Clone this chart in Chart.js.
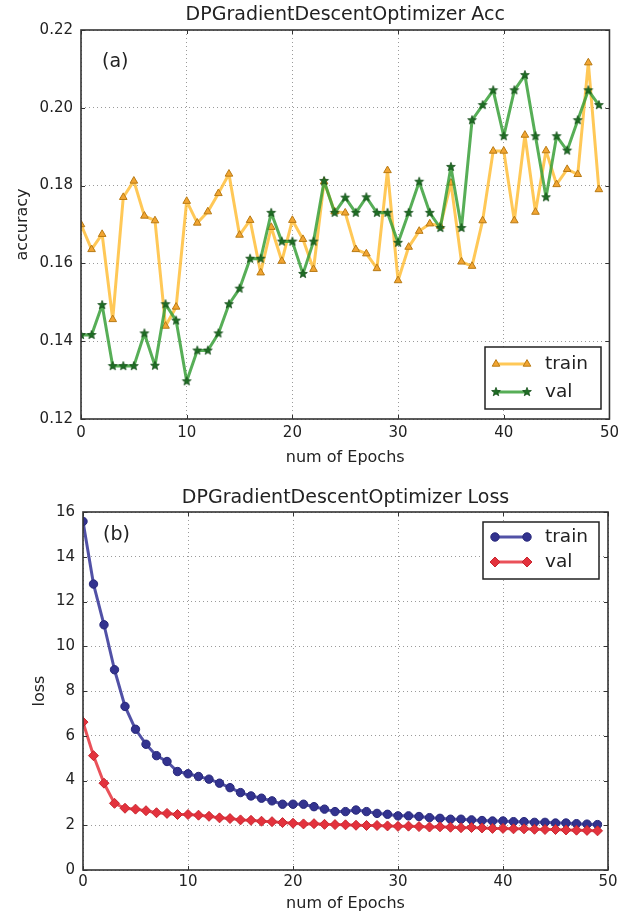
<!DOCTYPE html>
<html>
<head>
<meta charset="utf-8">
<script src="https://cdn.jsdelivr.net/npm/chart.js@4.4.1/dist/chart.umd.min.js"></script>
<style>
  html,body{margin:0;padding:0;background:#fff;}
  #wrap{position:relative;width:624px;height:913px;background:#fff;}
  canvas{position:absolute;left:0;}
</style>
</head>
<body>
<div id="wrap">
  <canvas id="acc" width="624" height="470" style="top:0"></canvas>
  <canvas id="loss" width="624" height="443" style="top:470px"></canvas>
</div>
<script>
// ---------- data ----------
const epochs = [0,1,2,3,4,5,6,7,8,9,10,11,12,13,14,15,16,17,18,19,20,21,22,23,24,
                25,26,27,28,29,30,31,32,33,34,35,36,37,38,39,40,41,42,43,44,45,46,47,48,49];
const accTrain = [0.170,0.1636,0.1675,0.1456,0.1770,0.1812,0.1722,0.1710,0.1439,0.1488,
                  0.1760,0.1704,0.1733,0.1780,0.1830,0.1673,0.1711,0.1576,0.1693,0.1606,
                  0.1711,0.1662,0.1585,0.1810,0.1733,0.1730,0.1636,0.1625,0.1587,0.1839,
                  0.1556,0.1642,0.1683,0.1702,0.1696,0.1807,0.1604,0.1593,0.1710,0.1889,
                  0.1889,0.1710,0.1930,0.1732,0.1890,0.1803,0.1842,0.1829,0.2116,0.1790];
const accVal   = [0.1416,0.1416,0.1493,0.1336,0.1336,0.1336,0.1420,0.1337,0.1495,0.1453,
                  0.1297,0.1376,0.1376,0.1420,0.1495,0.1535,0.1612,0.1612,0.1730,0.1656,
                  0.1656,0.1573,0.1656,0.1812,0.1730,0.1769,0.1730,0.1770,0.1730,0.1730,
                  0.1653,0.1730,0.1810,0.1730,0.1691,0.1848,0.1691,0.1968,0.2007,0.2045,
                  0.1927,0.2045,0.2084,0.1927,0.1770,0.1927,0.1890,0.1968,0.2045,0.2007];
const lossTrain = [15.58,12.78,10.96,8.95,7.31,6.29,5.62,5.11,4.85,4.40,
                   4.30,4.18,4.06,3.88,3.68,3.46,3.31,3.21,3.09,2.94,
                   2.94,2.94,2.83,2.72,2.61,2.61,2.68,2.61,2.53,2.49,
                   2.42,2.42,2.39,2.34,2.31,2.27,2.27,2.24,2.21,2.19,
                   2.19,2.16,2.16,2.13,2.13,2.10,2.10,2.07,2.05,2.03];
const lossVal   = [6.61,5.11,3.88,2.98,2.76,2.72,2.65,2.56,2.53,2.48,
                   2.48,2.45,2.40,2.33,2.30,2.24,2.22,2.18,2.16,2.12,
                   2.09,2.06,2.07,2.04,2.03,2.02,2.00,1.99,1.99,1.97,
                   1.95,1.96,1.94,1.92,1.93,1.91,1.89,1.90,1.88,1.86,
                   1.86,1.84,1.84,1.82,1.81,1.81,1.79,1.78,1.77,1.75];
const xTicks = [0,10,20,30,40,50];
const accTicks = [0.12,0.14,0.16,0.18,0.20,0.22];
const lossTicks = [0,2,4,6,8,10,12,14,16];
const seriesNames = ['train','val'];

// ---------- helpers ----------
Chart.defaults.font.family = "'DejaVu Sans', sans-serif";
Chart.defaults.color = '#222';

function pts(vals){ return epochs.map((e,i)=>({x:e,y:vals[i]})); }

function starImg(r, fill, edge){
  const c = document.createElement('canvas');
  const s = Math.ceil(r*2+4); c.width = s; c.height = s;
  const g = c.getContext('2d');
  const cx = s/2, cy = s/2;
  g.beginPath();
  for(let i=0;i<10;i++){
    const rr = i%2===0 ? r : r*0.42;
    const a = -Math.PI/2 + i*Math.PI/5;
    const px = cx + rr*Math.cos(a), py = cy + rr*Math.sin(a);
    i===0 ? g.moveTo(px,py) : g.lineTo(px,py);
  }
  g.closePath();
  g.fillStyle = fill; g.fill();
  g.strokeStyle = edge; g.lineWidth = 0.8; g.stroke();
  return c;
}
const star = starImg(4.6, '#1f6e25', '#144d18');

const decor = {
  id: 'decor',
  afterDraw(chart, args, o){
    const {ctx, chartArea:a} = chart;
    const xs = chart.scales.x, ys = chart.scales.y;
    ctx.save();
    // inward ticks
    ctx.strokeStyle = '#333'; ctx.lineWidth = 1;
    ctx.beginPath();
    o.xt.forEach(v=>{ const px = Math.round(xs.getPixelForValue(v))+0.5;
      ctx.moveTo(px,a.bottom); ctx.lineTo(px,a.bottom-4);
      ctx.moveTo(px,a.top); ctx.lineTo(px,a.top+4); });
    o.yt.forEach(v=>{ const py = Math.round(ys.getPixelForValue(v))+0.5;
      ctx.moveTo(a.left,py); ctx.lineTo(a.left+4,py);
      ctx.moveTo(a.right,py); ctx.lineTo(a.right-4,py); });
    ctx.stroke();
    // frame
    ctx.strokeStyle = '#333'; ctx.lineWidth = 1.6;
    ctx.strokeRect(a.left, a.top, a.right-a.left, a.bottom-a.top);
    // title
    ctx.fillStyle = '#222';
    ctx.font = "19px 'DejaVu Sans'";
    ctx.textAlign = 'center'; ctx.textBaseline = 'middle';
    ctx.fillText(o.title, (a.left+a.right)/2, o.titleY);
    // tag
    ctx.font = "19px 'DejaVu Sans'";
    ctx.textAlign = 'left';
    ctx.fillText(o.tag, o.tagX, o.tagY);
    // legend
    const L = o.legend;
    ctx.fillStyle = '#fff';
    ctx.fillRect(L.x, L.y, L.w, L.h);
    ctx.strokeStyle = '#222'; ctx.lineWidth = 1.5;
    ctx.strokeRect(L.x, L.y, L.w, L.h);
    chart.data.datasets.forEach((ds, i)=>{
      const y = L.rows[i];
      ctx.strokeStyle = ds.borderColor; ctx.lineWidth = ds.borderWidth;
      ctx.beginPath(); ctx.moveTo(L.x1, y); ctx.lineTo(L.x2, y); ctx.stroke();
      ctx.fillStyle = ds.pointBackgroundColor; ctx.strokeStyle = ds.pointBorderColor;
      ctx.lineWidth = ds.pointBorderWidth;
      [L.x1, L.x2].forEach(px=>{
        Chart.helpers.drawPoint(ctx, {pointStyle: ds.pointStyle, radius: ds.pointRadius,
          rotation: 0, borderWidth: ds.pointBorderWidth}, px, y);
      });
      ctx.fillStyle = '#222';
      ctx.font = "18.5px 'DejaVu Sans'";
      ctx.textAlign = 'left'; ctx.textBaseline = 'middle';
      ctx.fillText(ds.label, L.tx, y);
    });
    ctx.restore();
  }
};

function axisCommon(){
  return {
    grid: {drawTicks:false, color:'#9a9a9a', lineWidth:1},
    border: {display:false, dash:[1,3]},
  };
}

// ---------- accuracy chart ----------
new Chart(document.getElementById('acc'), {
  type: 'line',
  data: { datasets: [
    { label: seriesNames[0], data: pts(accTrain), order: 2,
      borderColor: 'rgba(255,184,40,0.78)', borderWidth: 3, tension: 0,
      borderJoinStyle: 'round', borderCapStyle: 'round',
      pointStyle: 'triangle', pointRadius: 4.4,
      pointBackgroundColor: '#f2a531', pointBorderColor: '#b87a14', pointBorderWidth: 1 },
    { label: seriesNames[1], data: pts(accVal), order: 1,
      borderColor: 'rgba(58,160,58,0.85)', borderWidth: 3, tension: 0,
      borderJoinStyle: 'round', borderCapStyle: 'round',
      pointStyle: star, pointRadius: 4.6,
      pointBackgroundColor: '#1f6e25', pointBorderColor: '#144d18', pointBorderWidth: 1 }
  ]},
  options: {
    responsive: false, animation: false, events: [],
    layout: { padding: {top:30, right:14, left:0, bottom:0} },
    plugins: {
      legend: {display:false}, tooltip: {enabled:false},
      decor: { title: 'DPGradientDescentOptimizer Acc', titleY: 15, tag: '(a)', tagX: 102, tagY: 62,
        xt: xTicks, yt: accTicks,
        legend: {x:485, y:347, w:116, h:62, rows:[364,392], x1:496, x2:527, tx:545} }
    },
    scales: {
      x: { type:'linear', min:0, max:50, ...axisCommon(),
        afterBuildTicks: s => { s.ticks = xTicks.map(v=>({value:v})); },
        afterFit: s => { s.height = 51; },
        ticks: { padding: 5, font: {size:15}, maxRotation: 0 },
        title: { display:true, text:'num of Epochs', font:{size:16}, padding:{top:0, bottom:3} } },
      y: { type:'linear', min:0.12, max:0.22, ...axisCommon(),
        afterBuildTicks: s => { s.ticks = accTicks.map(v=>({value:v})); },
        afterFit: s => { s.width = 81; },
        ticks: { padding: 8, font: {size:15}, callback: v => Number(v).toFixed(2) },
        title: { display:true, text:'accuracy', font:{size:16}, padding:{top:13, bottom:0} } }
    }
  },
  plugins: [decor]
});

// ---------- loss chart ----------
new Chart(document.getElementById('loss'), {
  type: 'line',
  data: { datasets: [
    { label: seriesNames[0], data: pts(lossTrain), order: 2,
      borderColor: 'rgba(50,50,150,0.85)', borderWidth: 3, tension: 0,
      borderJoinStyle: 'round', borderCapStyle: 'round',
      pointStyle: 'circle', pointRadius: 4.2,
      pointBackgroundColor: '#33338f', pointBorderColor: '#28287a', pointBorderWidth: 1 },
    { label: seriesNames[1], data: pts(lossVal), order: 1,
      borderColor: 'rgba(230,50,60,0.85)', borderWidth: 3, tension: 0,
      borderJoinStyle: 'round', borderCapStyle: 'round',
      pointStyle: 'rectRot', pointRadius: 5,
      pointBackgroundColor: '#e3323d', pointBorderColor: '#c8262f', pointBorderWidth: 1 }
  ]},
  options: {
    responsive: false, animation: false, events: [],
    layout: { padding: {top:42, right:16, left:0, bottom:0} },
    plugins: {
      legend: {display:false}, tooltip: {enabled:false},
      decor: { title: 'DPGradientDescentOptimizer Loss', titleY: 28, tag: '(b)', tagX: 103, tagY: 65,
        xt: xTicks, yt: lossTicks,
        legend: {x:483, y:52, w:116, h:57, rows:[67,92], x1:495, x2:527, tx:545} }
    },
    scales: {
      x: { type:'linear', min:0, max:50, ...axisCommon(),
        afterBuildTicks: s => { s.ticks = xTicks.map(v=>({value:v})); },
        afterFit: s => { s.height = 43; },
        ticks: { padding: 3, font: {size:15}, maxRotation: 0 },
        title: { display:true, text:'num of Epochs', font:{size:16}, padding:{top:0, bottom:0} } },
      y: { type:'linear', min:0, max:16, ...axisCommon(),
        afterBuildTicks: s => { s.ticks = lossTicks.map(v=>({value:v})); },
        afterFit: s => { s.width = 83; },
        ticks: { padding: 8, font: {size:15} },
        title: { display:true, text:'loss', font:{size:16}, padding:{top:30, bottom:0} } }
    }
  },
  plugins: [decor]
});
</script>
</body>
</html>
